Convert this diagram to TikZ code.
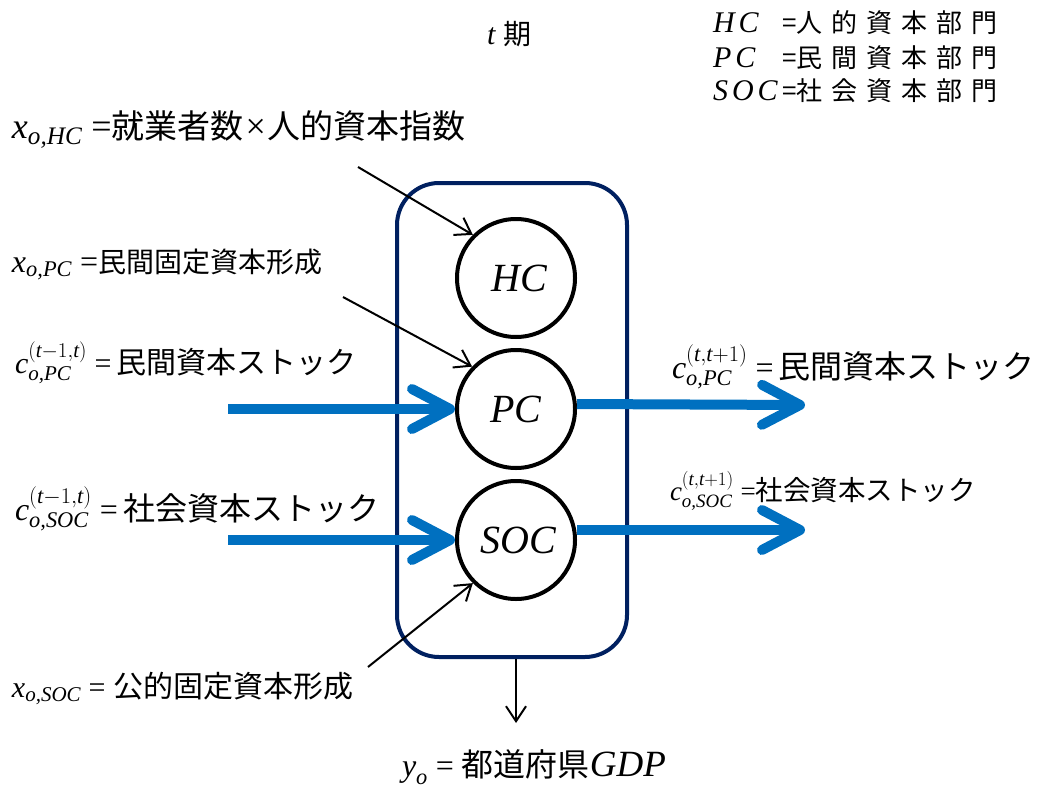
\RequirePackage{fix-cm}
\documentclass[tikz,border=0pt]{standalone}
\usepackage{amsmath}
\usepackage{fontspec}
\setmainfont{Liberation Serif}
\newfontfamily\jp{Noto Sans CJK JP}
\usetikzlibrary{arrows.meta}
\definecolor{framenavy}{HTML}{002060}
\definecolor{stockblue}{HTML}{0070C0}
\newcommand\fs[1]{\fontsize{#1}{#1}\selectfont}
\newcommand\J[2]{{\jp\fontsize{#1}{#1}\selectfont #2}}
\newcommand\spaced[1]{#1\hspace{9pt}}
\newcommand\lsp{\hspace{4pt}}
\begin{document}
\begin{tikzpicture}[x=1pt,y=-1pt,
  lbl/.style={anchor=base west, inner sep=0pt, outer sep=0pt},
  unit/.style={circle, draw, line width=4pt, minimum size=118pt, inner sep=0pt, font=\fs{40}\itshape},
  unitbox/.style={draw=framenavy, line width=4pt, rounded corners=42pt, minimum width=230pt, minimum height=474pt, inner sep=0pt},
  stock/.style={stockblue, line width=10pt, -{Straight Barb[length=38pt,width=40pt,round]}},
  feed/.style={line width=2pt, -{Straight Barb[length=15pt,width=20pt]}}
]
\useasboundingbox (0,0) rectangle (1040,789);

% period header and legend
\node[lbl, font=\fs{30}] (period) at (487,45) {\textit{t}\hspace{8pt}\J{28}{期}};
\node[lbl, font=\fs{30}] (leghc) at (713,33) {\makebox[69pt][l]{\textit{H\lsp C}}\J{26}{=\spaced{人}\spaced{的}\spaced{資}\spaced{本}\spaced{部}門}};
\node[lbl, font=\fs{30}] (legpc) at (713,68) {\makebox[69pt][l]{\textit{P\lsp C}}\J{26}{=\spaced{民}\spaced{間}\spaced{資}\spaced{本}\spaced{部}門}};
\node[lbl, font=\fs{30}] (legsoc) at (713,100) {\makebox[69pt][l]{\textit{S\lsp O\lsp C}}\J{26}{=\spaced{社}\spaced{会}\spaced{資}\spaced{本}\spaced{部}門}};

% sector box and sector units
\node[unitbox] (sectors) at (512,420) {};
\node[unit] (hc) at (516,278) {\hspace{6pt}HC};
\node[unit] (pc) at (516,409) {PC};
\node[unit] (soc) at (516,540) {\hspace{4pt}SOC};

% input labels
\node[lbl, font=\fs{36}] (xhc) at (12,139) {$\textit{x}_{\textit{o,HC}}$\ =\J{33}{就業者数}\hspace{2pt}×\hspace{2pt}\J{33}{人的資本指数}};
\node[lbl, font=\fs{32}] (xpc) at (12,272) {$\textit{x}_{\textit{o,PC}}$\ =\J{28}{民間固定資本形成}};
\node[lbl, font=\fs{30}] (cpcin) at (15,373) {$\textit{c}_{\textit{o,PC}}^{(\textit{t}-1,\textit{t})}$ =\,\J{30}{民間資本ストック}};
\node[lbl, font=\fs{32}] (csocin) at (15,520) {$\textit{c}_{\textit{o,SOC}}^{(\textit{t}-1,\textit{t})}$ =\,\J{32}{社会資本ストック}};
\node[lbl, font=\fs{30}] (xsoc) at (12,697) {$\textit{x}_{\textit{o,SOC}}$ = \J{30}{公的固定資本形成}};

% output labels
\node[lbl, font=\fs{32}] (cpcout) at (672,378) {$\textit{c}_{\textit{o,PC}}^{(\textit{t},\textit{t}+1)}$ =\,\J{32}{民間資本ストック}};
\node[lbl, font=\fs{27}] (csocout) at (670,500) {$\textit{c}_{\textit{o,SOC}}^{(\textit{t},\textit{t}+1)}$ =\J{27.5}{社会資本ストック}};
\node[lbl, font=\fs{32}] (gdp) at (402,776) {$\textit{y}_{\textit{o}}$ = \J{32}{都道府県}{\fs{37}\textit{GDP}}};

% connector end points
\coordinate (hcfrom) at (358,167);
\coordinate (pcfrom) at (343,297);
\coordinate (socfrom) at (368,667);
\coordinate (pcin) at (228,409);
\coordinate (socin) at (228,540);
\coordinate (pcout) at (805,405);
\coordinate (socout) at (805,530);
\coordinate (gdpout) at (516,723);

% flows of fixed capital formation and labour
\draw[feed] (hcfrom) -- (hc.135);
\draw[feed] (pcfrom) -- (pc.136);
\draw[feed] (socfrom) -- (soc.225);

% capital stocks carried between periods
\draw[stock] (pcin) -- (pc.west);
\draw[stock] (socin) -- (soc.west);
\draw[stock] ([yshift=5pt]pc.east) -- (pcout);
\draw[stock] ([yshift=10pt]soc.east) -- (socout);

% regional output
\draw[feed] (sectors.south -| hc.center) -- (gdpout);
\end{tikzpicture}
\end{document}
